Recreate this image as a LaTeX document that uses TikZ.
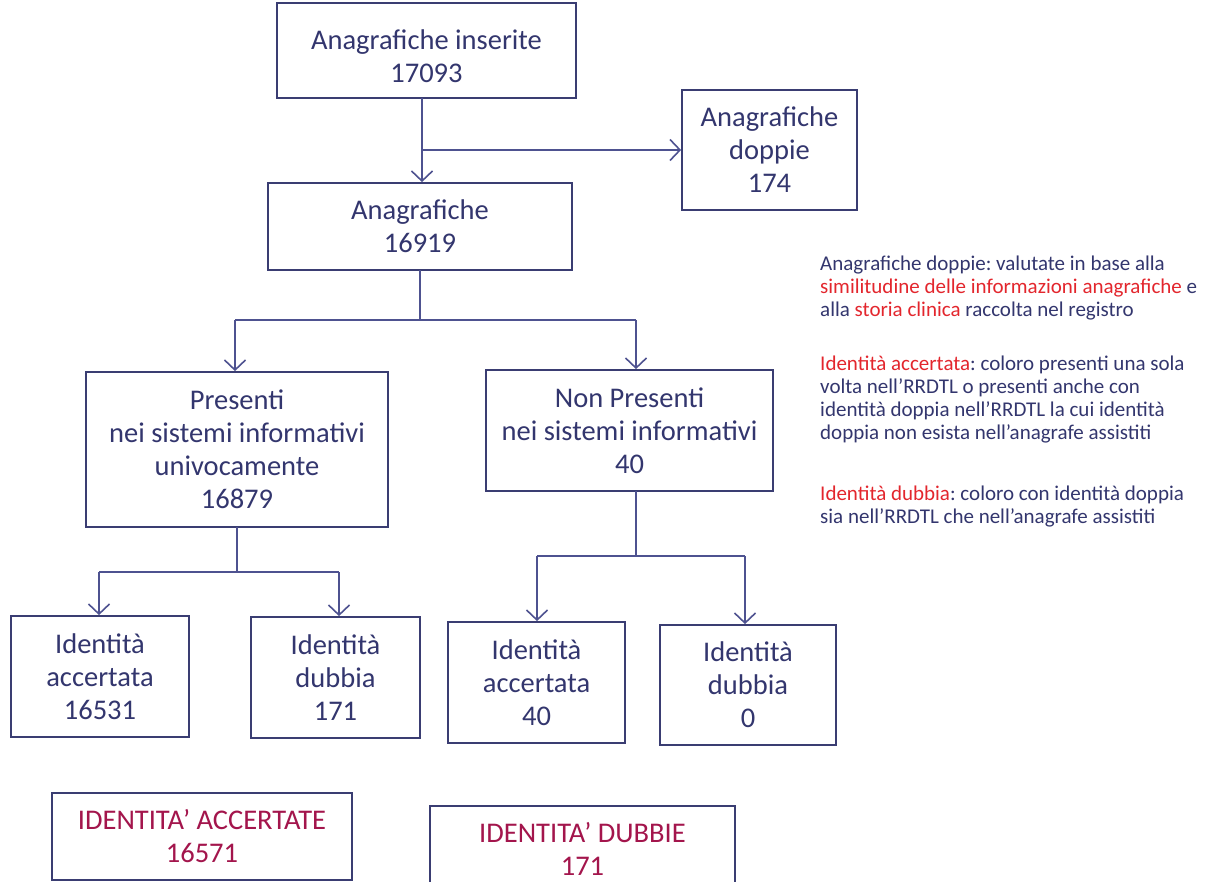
\documentclass[tikz,border=0pt]{standalone}
\usepackage{fontspec}
\setmainfont{Carlito}
\frenchspacing
\usetikzlibrary{arrows.meta}
\definecolor{navytxt}{HTML}{33366E}
\definecolor{boxline}{HTML}{3A3D72}
\definecolor{conn}{HTML}{4E5290}
\definecolor{redtxt}{HTML}{E3262D}
\definecolor{crim}{HTML}{A3154C}
\begin{document}
\begin{tikzpicture}[x=1pt,y=-1pt,
  box/.style={draw=boxline,line width=1.8pt,align=center,text=navytxt,
    font=\fontsize{28.5}{33}\selectfont,inner sep=0pt},
  sumbox/.style={box,text=crim},
  conn/.style={draw=conn,line width=2pt,-{Straight Barb[length=10pt,width=21pt,line width=1.6pt]}},
  plain/.style={draw=conn,line width=2pt},
  note/.style={align=left,anchor=north west,text=navytxt,inner sep=0pt,
    font=\fontsize{21}{23}\selectfont}]
\useasboundingbox (0,0) rectangle (1212,882);
\fill[white] (0,0) rectangle (1212,882);

\node[box,minimum width=299pt,minimum height=95pt] (top) at (426.5,50.5) {\rule{0pt}{31pt}Anagrafiche inserite\\17093};
\node[box,minimum width=175pt,minimum height=120pt] (dop) at (769.5,150) {Anagrafiche\\doppie\\174};
\node[box,minimum width=304pt,minimum height=87pt] (ana) at (420,226.5) {Anagrafiche\\16919};
\node[box,minimum width=302pt,minimum height=155pt] (pres) at (237,449.5) {Presenti\\nei sistemi informativi\\univocamente\\16879};
\node[box,minimum width=287pt,minimum height=121pt] (nonp) at (629.5,430.5) {Non Presenti\\nei sistemi informativi\\40};
\node[box,minimum width=178pt,minimum height=121pt] (ia1) at (100,676.5) {Identità\\accertata\\16531};
\node[box,minimum width=169pt,minimum height=121pt] (id1) at (335.5,677.5) {Identità\\dubbia\\171};
\node[box,minimum width=177pt,minimum height=121pt] (ia2) at (536.5,682.5) {Identità\\accertata\\40};
\node[box,minimum width=176pt,minimum height=120pt] (id2) at (748,685) {Identità\\dubbia\\0};
\node[sumbox,minimum width=300pt,minimum height=87pt] (IA) at (202,836.5) {IDENTITA’ ACCERTATE\\16571};
\node[sumbox,minimum width=305pt,minimum height=86pt] (ID) at (582.5,849) {IDENTITA’ DUBBIE\\171};

% connectors
\coordinate (t0) at (422,98);
\coordinate (tb) at (422,150);
\draw[conn] (t0) -- (t0 |- ana.north);
\draw[conn] (tb) -- (tb -| dop.west);

\coordinate (a0) at (420,270);
\coordinate (aj) at (420,320);
\coordinate (ajL) at (235,320);
\coordinate (ajR) at (636,320);
\draw[plain] (a0) -- (aj);
\draw[plain] (ajL) -- (ajR);
\draw[conn] (ajL) -- (ajL |- pres.north);
\draw[conn] (ajR) -- (ajR |- nonp.north);

\coordinate (p0) at (237,527);
\coordinate (pj) at (237,572);
\coordinate (pjL) at (99,572);
\coordinate (pjR) at (339,572);
\draw[plain] (p0) -- (pj);
\draw[plain] (pjL) -- (pjR);
\draw[conn] (pjL) -- (pjL |- ia1.north);
\draw[conn] (pjR) -- (pjR |- id1.north);

\coordinate (n0) at (636,491);
\coordinate (nj) at (636,556);
\coordinate (njL) at (537,556);
\coordinate (njR) at (745,556);
\draw[plain] (n0) -- (nj);
\draw[plain] (njL) -- (njR);
\draw[conn] (njL) -- (njL |- ia2.north);
\draw[conn] (njR) -- (njR |- id2.north);

% notes
\node[note] (n1) at (820,256) {Anagrafiche doppie: valutate in base alla\\
\textcolor{redtxt}{similitudine delle informazioni anagrafiche} e\\
alla \textcolor{redtxt}{storia clinica} raccolta nel registro};
\node[note] (n2) at (820,356) {\textcolor{redtxt}{Identità accertata}: coloro presenti una sola\\
volta nell’RRDTL o presenti anche con\\
identità doppia nell’RRDTL la cui identità\\
doppia non esista nell’anagrafe assistiti};
\node[note] (n3) at (820,486) {\textcolor{redtxt}{Identità dubbia}: coloro con identità doppia\\
sia nell’RRDTL che nell’anagrafe assistiti};
\end{tikzpicture}
\end{document}
